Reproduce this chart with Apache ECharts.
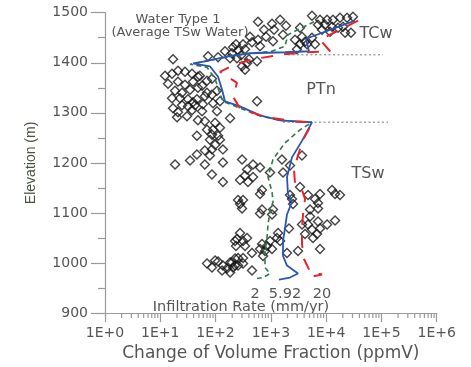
<!DOCTYPE html>
<html>
<head>
<meta charset="utf-8">
<script src="https://cdn.jsdelivr.net/npm/echarts@6/dist/echarts.min.js"></script>
<style>
  html, body { margin: 0; padding: 0; background: #ffffff; }
  #chart { width: 471px; height: 367px; }
</style>
</head>
<body>
<div id="chart"></div>
<script>
// Measured samples: [change of volume fraction (ppmV), elevation (m)]
const samples = [
  [5550,1494],[7750,1486],[10400,1486],[13300,1486],[17800,1490],[23900,1490],[30600,1492],
  [7130,1476],[9540,1476],[12800,1472],[16400,1470],[20200,1472],[8420,1466],[11800,1462],
  [3370,1470],[3660,1452],[2740,1446],[4150,1442],[5550,1450],[3370,1437],[4510,1437],[6290,1437],[2970,1427],
  [22000,1460],[28200,1460],
  [586,1482],[1050,1478],[1470,1486],[1880,1474],[752,1466],[1140,1466],[818,1452],[1660,1456],
  [420,1452],[586,1446],[314,1437],[456,1441],[637,1433],[1094,1443],[341,1427],[234,1437],[207,1431],
  [255,1425],[198,1419],[289,1415],[183,1409],[244,1409],[403,1407],[562,1403],[371,1399],[301,1393],[341,1386],
  [17.0,1407],[73,1413],[148,1423],[111,1411],
  [12.2,1374],[16.3,1378],[20.9,1384],[28,1382],[37.5,1378],[48,1372],[13.8,1358],[20.9,1362],[28,1356],
  [52,1374],[70,1364],[39,1362],[86,1368],[57,1354],
  [18.5,1344],[24.7,1340],[34.5,1346],[48,1350],[70,1340],[106,1344],[31.7,1327],[46,1327],[64,1333],[86,1336],
  [16.3,1329],[22.7,1329],[39,1321],[59,1317],[90,1319],[120,1323],
  [17,1309],[24.7,1315],[37.5,1305],[31.7,1313],[20.9,1301],[42.5,1315],[57,1303],[106,1303],[20.1,1291],[30.4,1293],
  [183,1289],[48,1285],[64,1283],[98,1280],[70,1266],[90,1266],[120,1270],[46,1254],[86,1256],[111,1254],
  [79,1246],[120,1246],[98,1236],[136,1227],[86,1227],[64,1225],[46,1217],[79,1215],[18.5,1197],[34.5,1205],
  [64,1197],[136,1201],[86,1177],[136,1162],
  [301,1207],[476,1197],[637,1191],[371,1187],[341,1175],[476,1172],[277,1166],[386,1162],[966,1181],[1660,1181],
  [1590,1207],[2220,1195],[3660,1215],[692,1146],[2220,1136],[3370,1152],[7750,1138],[12800,1146],[17800,1136],
  [562,1323],
  [255,1126],[314,1126],[637,1138],[301,1109],[277,1118],[637,1099],[1050,1097],[1094,1107],[692,1107],
  [2410,1128],[2520,1118],[4700,1136],[6290,1128],[7130,1120],[14500,1138],[5110,1107],[7130,1109],[5110,1093],
  [7130,1083],[10400,1077],[14500,1085],[4700,1077],[5550,1067],[7750,1069],[3660,1077],[4150,1058],[6840,1058],
  [5790,1050],[2130,1069],[1350,1060],[1290,1050],[1470,1044],[3100,1024],[1960,1020],[7750,1028],[966,1044],
  [277,1060],[371,1050],[314,1044],[244,1048],[234,1034],[341,1034],[692,1038],[852,1034],[1050,1028],[637,1028],
  [784,1024],[456,1020],[722,1014],[314,1010],[255,1010],[198,1001],[225,995],[456,985],[70,999],[98,1005],
  [86,991],[136,995],[161,989],[183,1001],[225,1009],[207,991],[255,995],[314,999],[131,985],[183,981],
  [111,1003],[225,1044]
];

// Modelled profiles for each infiltration rate: [ppmV, elevation]
const rate2 = [
  [6040,1482],[2040,1456],[1800,1433],[1050,1423],[314,1417],[98,1407],[34.5,1397],[70,1391],
  [98,1368],[120,1338],[136,1323],[255,1311],[586,1295],[1470,1285],[5550,1281],
  [3370,1266],[1800,1240],[1094,1207],[888,1172],[1050,1142],[1094,1122],[966,1103],[888,1077],
  [852,1050],[784,1024],[784,991],[966,979],[722,971],[562,969]
];
const rate592 = [
  [33300,1484],[4325,1448],[4900,1423],[1800,1421],[420,1419],[168,1413],[64,1403],[39,1399],[79,1393],
  [111,1372],[131,1346],[148,1323],[277,1313],[637,1295],[1470,1285],[5550,1281],
  [3660,1244],[2410,1211],[1960,1172],[2040,1138],[2410,1122],[1960,1097],[1800,1069],[1660,1044],
  [1660,1014],[1960,995],[3100,979],[2220,971],[1400,967]
];
const rate20 = [
  [37700,1484],[7750,1446],[11800,1423],[4510,1421],[1660,1417],[476,1407],[225,1397],[120,1382],
  [244,1360],[207,1332],[277,1309],[722,1293],[2520,1283],[5550,1281],
  [4700,1264],[3820,1246],[3100,1215],[2620,1187],[2740,1158],[3660,1146],[4150,1128],[3820,1097],
  [3660,1069],[3660,1038],[3980,1008],[5110,983],[8420,977],[5550,973]
];

// Unit boundaries (elevation) and their horizontal extent (ppmV)
const tcwBase = [[2040,1416],[107000,1416]];
const ptnBase = [[1660,1281],[131600,1281]];

const rateLabels = ['2', '5.92', '20'];
const xDecades = [1, 10, 100, 1000, 10000, 100000, 1000000];

// log-axis minor tick positions (2..9 within each decade)
const minorTickValues = [];
for (let d = 0; d < xDecades.length - 1; d++) {
  for (let k = 2; k <= 9; k++) minorTickValues.push([k * xDecades[d], 900]);
}

const AXIS = '#9a9a9a';
const TEXT = '#555555';
const FONT = 'DejaVu Sans';

const chart = echarts.init(document.getElementById('chart'), null, { renderer: 'canvas' });

function txt(x, y, s, size) {
  return {
    type: 'text', x: x, y: y, silent: true,
    style: { text: s, fill: TEXT, font: size + 'px "' + FONT + '"', align: 'center', verticalAlign: 'middle' }
  };
}

chart.setOption({
  animation: false,
  backgroundColor: '#ffffff',
  grid: { left: 105, right: 34.3, top: 12.7, bottom: 48.7, containLabel: false },
  xAxis: {
    type: 'log', logBase: 10, min: 1, max: 1000000,
    axisLine: { lineStyle: { color: AXIS, width: 1.2 } },
    axisTick: { length: 9, lineStyle: { color: AXIS, width: 1.2 } },
    minorTick: { show: false },
    splitLine: { show: false },
    axisLabel: {
      color: TEXT, fontFamily: FONT, fontSize: 14, margin: 13,
      formatter: v => '1E+' + Math.round(Math.log10(v))
    },
    name: 'Change of Volume Fraction (ppmV)',
    nameLocation: 'middle', nameGap: 29,
    nameTextStyle: { color: TEXT, fontFamily: FONT, fontSize: 17 }
  },
  yAxis: {
    type: 'value', min: 900, max: 1500, interval: 100,
    axisLine: { show: true, lineStyle: { color: AXIS, width: 1.2 } },
    axisTick: { show: true, length: 14, lineStyle: { color: AXIS, width: 1.2 } },
    minorTick: { show: true, splitNumber: 2, length: 7, lineStyle: { color: AXIS, width: 1.2 } },
    splitLine: { show: false },
    axisLabel: { color: TEXT, fontFamily: FONT, fontSize: 14, margin: 17, formatter: v => String(v) },
    name: 'Elevation (m)',
    nameLocation: 'middle', nameGap: 67,
    nameTextStyle: { color: '#48523f', fontFamily: 'Liberation Sans', fontSize: 14 }
  },
  series: [
    {
      type: 'custom', silent: true, clip: false, z: 1,
      data: minorTickValues,
      renderItem: (params, api) => {
        const p = api.coord([api.value(0), api.value(1)]);
        return { type: 'line', shape: { x1: p[0], y1: p[1], x2: p[0], y2: p[1] + 5 },
                 style: { stroke: AXIS, lineWidth: 1.2 } };
      }
    },
    {
      type: 'scatter', data: samples, symbol: 'diamond', symbolSize: 9, z: 2, silent: true,
      itemStyle: { color: 'rgba(255,255,255,0)', borderColor: '#151515', borderWidth: 1.4 }
    },
    {
      type: 'line', data: tcwBase, symbol: 'none', z: 3, silent: true,
      lineStyle: { color: '#9fa89c', width: 1.5, type: [2, 2.5] }
    },
    {
      type: 'line', data: ptnBase, symbol: 'none', z: 3, silent: true,
      lineStyle: { color: '#9fa89c', width: 1.5, type: [2, 2.5] }
    },
    {
      name: rateLabels[0], type: 'line', data: rate2, symbol: 'none', z: 4, silent: true,
      lineStyle: { color: '#2f7a4c', width: 1.6, type: [5, 3.5] }
    },
    {
      name: rateLabels[1], type: 'line', data: rate592, symbol: 'none', z: 5, silent: true,
      lineStyle: { color: '#2b56b0', width: 1.8 }
    },
    {
      name: rateLabels[2], type: 'line', data: rate20, symbol: 'none', z: 6, silent: true,
      lineStyle: { color: '#e8232b', width: 2, type: [12, 11] }
    }
  ],
  graphic: [
    txt(178, 20, 'Water Type 1', 13),
    txt(180, 33, '(Average TSw Water)', 13),
    txt(376, 34, 'TCw', 16),
    txt(321, 90, 'PTn', 16),
    txt(368, 174, 'TSw', 16),
    txt(255, 294, rateLabels[0], 14.5),
    txt(285, 294, rateLabels[1], 14.5),
    txt(322, 294, rateLabels[2], 14.5),
    txt(241, 307, 'Infiltration Rate (mm/yr)', 14.5)
  ]
});
</script>
</body>
</html>
